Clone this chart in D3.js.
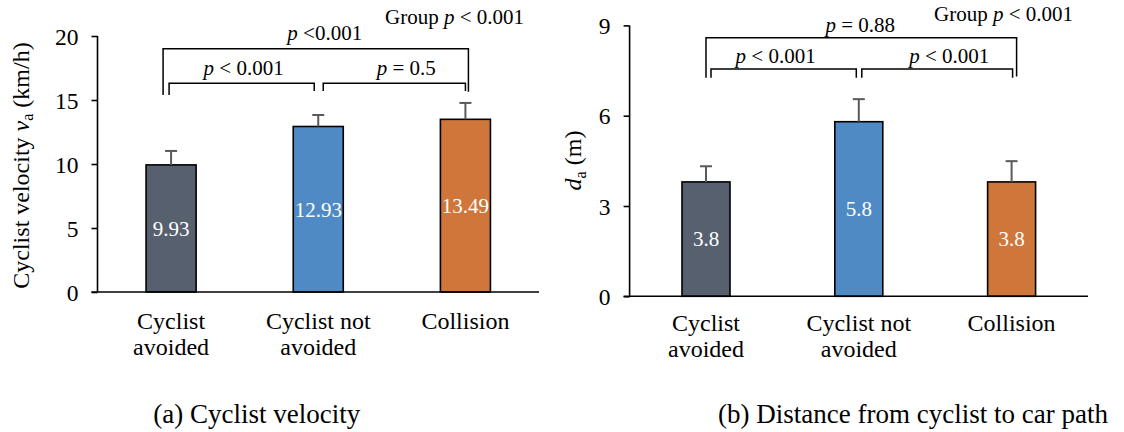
<!DOCTYPE html>
<html>
<head>
<meta charset="utf-8">
<script src="https://cdn.jsdelivr.net/npm/d3@7"></script>
<style>
  html, body { margin: 0; padding: 0; background: #ffffff; }
  svg, svg text { font-family: 'Liberation Serif', 'Times New Roman', Times, serif; }
</style>
</head>
<body>
<svg id="chart" width="1124" height="432"></svg>
<script>
// ---- data ----
const categories = [["Cyclist", "avoided"], ["Cyclist not", "avoided"], ["Collision"]];
const barColors = ["#56606f", "#4f8ac4", "#cf763a"];

const velocityMeans = [9.93, 12.93, 13.49];
const velocityErrors = [1.09, 0.90, 1.28];
const velocityTicks = [0, 5, 10, 15, 20];
const velocityComparisons = [
  { from: 0, to: 2, text: " <0.001" },
  { from: 0, to: 1, text: " < 0.001" },
  { from: 1, to: 2, text: " = 0.5" }
];

const distanceMeans = [3.8, 5.8, 3.8];
const distanceErrors = [0.52, 0.75, 0.69];
const distanceTicks = [0, 3, 6, 9];
const distanceComparisons = [
  { from: 0, to: 2, text: " = 0.88" },
  { from: 0, to: 1, text: " < 0.001" },
  { from: 1, to: 2, text: " < 0.001" }
];

const groupText = " < 0.001";
const captions = ["(a) Cyclist velocity", "(b) Distance from cyclist to car path"];

const SERIF = "'Liberation Serif', 'Times New Roman', Times, serif";

// ---- layout of the two panels ----
const panels = [
  {
    means: velocityMeans, errors: velocityErrors, ticks: velocityTicks,
    comparisons: velocityComparisons, caption: captions[0],
    yMax: 20, x0: 97.5, x1: 539, yTop: 36, yBottom: 292, barPad: 0.66,
    // bracket geometry: level (data units), leg ends (data units), end offsets (px), label shift (px)
    brackets: [
      { level: 19.0, leg: [15.4, 15.65], off: [-8, 3], labelDx: 9, labelGap: 8.5 },
      { level: 16.3, leg: [15.4, 15.7], off: [-2, -4], labelDx: 2, labelGap: 8 },
      { level: 16.3, leg: [15.7, 15.7], off: [5, 0], labelDx: 12, labelGap: 8 }
    ],
    groupX: 385, groupY: 24,
    yLabelX: 28.5, yLabelY: 165.5,
    yLabel: [{ t: "Cyclist velocity " }, { t: "v", italic: true }, { t: "a", sub: true }, { t: " (km/h)", up: true }],
    catY: 328.5, captionX: 256.7
  },
  {
    means: distanceMeans, errors: distanceErrors, ticks: distanceTicks,
    comparisons: distanceComparisons, caption: captions[1],
    yMax: 9, x0: 629.6, x1: 1088, yTop: 25.4, yBottom: 296.3, barPad: 0.686,
    brackets: [
      { level: 8.59, leg: [7.26, 7.3], off: [0, 5], labelDx: -1, labelGap: 6 },
      { level: 7.55, leg: [7.26, 7.26], off: [5, -2.5], labelDx: -8, labelGap: 6 },
      { level: 7.55, leg: [7.26, 7.26], off: [3, 1], labelDx: 12, labelGap: 6 }
    ],
    groupX: 934, groupY: 21,
    yLabelX: 581, yLabelY: 160.5,
    yLabel: [{ t: "d", italic: true }, { t: "a", sub: true }, { t: " (m)", up: true }],
    catY: 330.5, captionX: 913
  }
];

const svg = d3.select("#chart").attr("font-family", SERIF);

panels.forEach(p => {
  const g = svg.append("g").attr("font-family", SERIF);

  const x = d3.scaleBand()
    .domain(d3.range(p.means.length))
    .range([p.x0, p.x1])
    .paddingInner(p.barPad)
    .paddingOuter(p.barPad / 2);
  const cx = i => x(i) + x.bandwidth() / 2;

  const y = d3.scaleLinear().domain([0, p.yMax]).range([p.yBottom, p.yTop]);

  // y axis
  const yAxis = d3.axisLeft(y).tickValues(p.ticks).tickSize(6).tickPadding(13).tickFormat(d3.format("d"));
  const ay = g.append("g").attr("transform", `translate(${p.x0},0)`).call(yAxis)
    .attr("font-family", SERIF).attr("font-size", 23.5);
  ay.select(".domain").attr("stroke", "#000").attr("stroke-width", 1.6).attr("d", `M0,${y(p.yMax)}V${y(0)}`);
  ay.selectAll(".tick line").attr("stroke", "#000").attr("stroke-width", 1.6);
  ay.selectAll(".tick text")
    .attr("fill", "#000")
    .style("font-family", SERIF)
    .style("font-size", "23.5px")
    .attr("dy", "0.34em");

  // bars
  g.selectAll("rect.bar").data(p.means).join("rect")
    .attr("class", "bar")
    .attr("x", (d, i) => x(i))
    .attr("y", d => y(d))
    .attr("width", x.bandwidth())
    .attr("height", d => y(0) - y(d))
    .attr("fill", (d, i) => barColors[i])
    .attr("stroke", "#000")
    .attr("stroke-width", 1.6);

  // error bars (upper only)
  const err = g.selectAll("g.err").data(p.means).join("g").attr("class", "err")
    .attr("stroke", "#5a5a5a").attr("stroke-width", 2);
  err.append("line")
    .attr("x1", (d, i) => cx(i)).attr("x2", (d, i) => cx(i))
    .attr("y1", d => y(d)).attr("y2", (d, i) => y(d + p.errors[i]));
  err.append("line")
    .attr("x1", (d, i) => cx(i) - 6).attr("x2", (d, i) => cx(i) + 6)
    .attr("y1", (d, i) => y(d + p.errors[i])).attr("y2", (d, i) => y(d + p.errors[i]));

  // x axis baseline
  g.append("line")
    .attr("x1", p.x0 - 6).attr("x2", p.x1)
    .attr("y1", y(0)).attr("y2", y(0))
    .attr("stroke", "#000").attr("stroke-width", 1.6);

  // value labels in the middle of each bar
  g.selectAll("text.val").data(p.means).join("text")
    .attr("class", "val")
    .attr("x", (d, i) => cx(i))
    .attr("y", d => y(d / 2))
    .attr("dy", "0.35em")
    .attr("text-anchor", "middle")
    .attr("fill", "#ffffff")
    .style("font-family", SERIF)
    .style("font-size", "21px")
    .text(d => String(d));

  // category labels
  categories.forEach((lines, i) => {
    const t = g.append("text")
      .attr("x", cx(i)).attr("y", p.catY)
      .attr("text-anchor", "middle").attr("fill", "#000")
      .style("font-family", SERIF).style("font-size", "24px");
    lines.forEach((ln, k) => {
      t.append("tspan").attr("x", cx(i)).attr("dy", k === 0 ? 0 : 26.5).text(ln);
    });
  });

  // significance brackets
  p.comparisons.forEach((c, k) => {
    const b = p.brackets[k];
    const xa = cx(c.from) + b.off[0];
    const xb = cx(c.to) + b.off[1];
    const yl = y(b.level);
    g.append("path")
      .attr("d", `M${xa},${y(b.leg[0])}V${yl}H${xb}V${y(b.leg[1])}`)
      .attr("fill", "none").attr("stroke", "#000").attr("stroke-width", 1.5);
    const t = g.append("text")
      .attr("x", (xa + xb) / 2 + b.labelDx).attr("y", yl - b.labelGap)
      .attr("text-anchor", "middle").attr("fill", "#000")
      .style("font-family", SERIF).style("font-size", "21px")
      .style("white-space", "pre");
    t.append("tspan").style("font-style", "italic").text("p");
    t.append("tspan").text(c.text);
  });

  // overall group test
  const gt = g.append("text").attr("x", p.groupX).attr("y", p.groupY)
    .attr("fill", "#000")
    .style("font-family", SERIF).style("font-size", "21px")
    .style("white-space", "pre");
  gt.append("tspan").text("Group ");
  gt.append("tspan").style("font-style", "italic").text("p");
  gt.append("tspan").text(groupText);

  // y axis title
  const yt = g.append("text")
    .attr("transform", `translate(${p.yLabelX},${p.yLabelY}) rotate(-90)`)
    .attr("text-anchor", "middle").attr("fill", "#000")
    .style("font-family", SERIF).style("font-size", "24px")
    .style("white-space", "pre");
  p.yLabel.forEach(part => {
    const s = yt.append("tspan").text(part.t);
    if (part.italic) s.style("font-style", "italic");
    if (part.sub) s.style("font-size", "16px").attr("dy", "0.3em");
    if (part.up) s.attr("dy", "-0.2em");
  });

  // panel caption
  g.append("text").attr("x", p.captionX).attr("y", 423)
    .attr("text-anchor", "middle").attr("fill", "#000")
    .style("font-family", SERIF).style("font-size", "27px")
    .text(p.caption);
});
</script>
</body>
</html>
